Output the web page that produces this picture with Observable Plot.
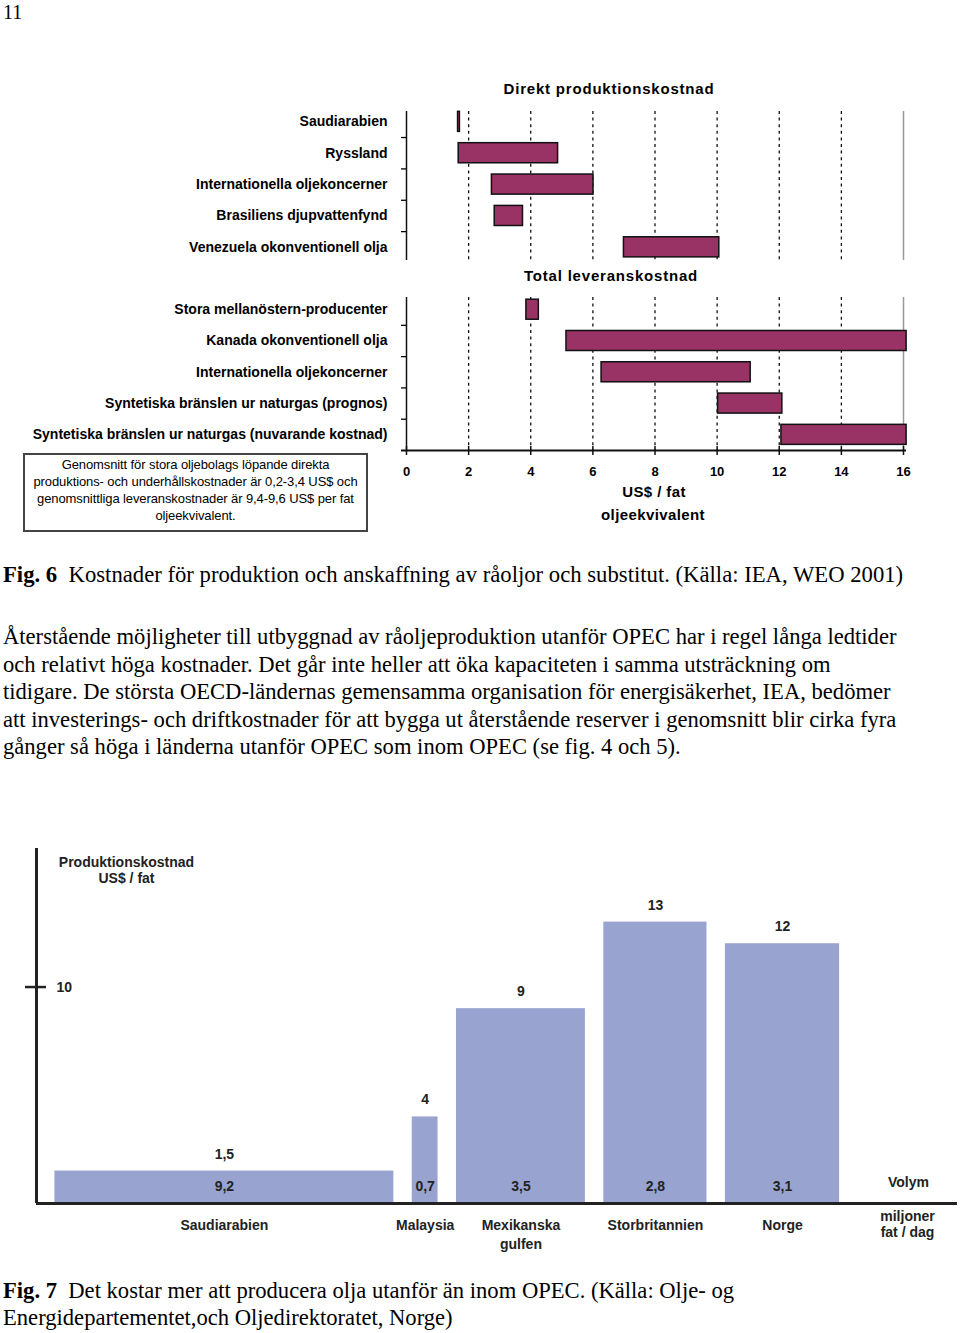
<!DOCTYPE html>
<html><head><meta charset="utf-8">
<script src="https://cdn.jsdelivr.net/npm/d3@7"></script>
<script src="https://cdn.jsdelivr.net/npm/@observablehq/plot@0.6"></script>
<style>
body{margin:0;background:#fff;}
#page{position:relative;width:960px;height:1333px;overflow:hidden;background:#fff;}
.abs{position:absolute;white-space:nowrap;}
.serif{font-family:"Liberation Serif","Times New Roman",serif;color:#000;}
.sans{font-family:"Liberation Sans",Arial,sans-serif;color:#000;}
.ctr{transform:translateX(-50%);text-align:center;}
</style></head><body><div id="page">
<div class="abs serif" style="left:3px;top:0px;font-size:20px;line-height:24px;">11</div>

<div class="abs sans ctr" style="left:609px;top:80px;font-size:15px;font-weight:bold;letter-spacing:0.8px;line-height:18px;">Direkt produktionskostnad</div>
<div class="abs sans ctr" style="left:611px;top:267px;font-size:15px;font-weight:bold;letter-spacing:0.8px;line-height:18px;">Total leveranskostnad</div>
<div class="abs sans ctr" style="left:654px;top:483px;font-size:15px;font-weight:bold;letter-spacing:0.4px;line-height:18px;">US$ / fat</div>
<div class="abs sans ctr" style="left:653px;top:506px;font-size:15px;font-weight:bold;letter-spacing:0.4px;line-height:18px;">oljeekvivalent</div>

<div class="abs sans" style="left:23px;top:453px;width:341px;height:74px;border:2px solid #444;text-align:center;font-size:13px;line-height:17px;padding-top:1px;box-sizing:content-box;letter-spacing:-0.1px;">Genomsnitt för stora oljebolags löpande direkta<br>produktions- och underhållskostnader är 0,2-3,4 US$ och<br>genomsnittliga leveranskostnader är 9,4-9,6 US$ per fat<br>oljeekvivalent.</div>

<div class="abs serif" style="left:3px;top:561px;font-size:22.7px;line-height:28px;"><b>Fig. 6</b>&nbsp; Kostnader för produktion och anskaffning av råoljor och substitut. (Källa: IEA, WEO 2001)</div>

<div class="abs serif" style="left:3px;top:623px;font-size:22.6px;line-height:27.5px;">Återstående möjligheter till utbyggnad av råoljeproduktion utanför OPEC har i regel långa ledtider<br>och relativt höga kostnader. Det går inte heller att öka kapaciteten i samma utsträckning om<br>tidigare. De största OECD-ländernas gemensamma organisation för energisäkerhet, IEA, bedömer<br>att investerings- och driftkostnader för att bygga ut återstående reserver i genomsnitt blir cirka fyra<br>gånger så höga i länderna utanför OPEC som inom OPEC (se fig. 4 och 5).</div>

<div class="abs serif" style="left:3px;top:1277px;font-size:22.6px;line-height:27px;"><b>Fig. 7</b>&nbsp; Det kostar mer att producera olja utanför än inom OPEC. (Källa: Olje- og<br>Energidepartementet,och Oljedirektoratet, Norge)</div>
</div>
<script>
// ---------- Data: Fig. 6 ----------
const directCategories = ["Saudiarabien", "Ryssland", "Internationella oljekoncerner", "Brasiliens djupvattenfynd", "Venezuela okonventionell olja"];
const directLow  = [1.66, 1.68, 2.75, 2.84, 7.00];
const directHigh = [1.72, 4.88, 6.02, 3.75, 10.07];

const totalCategories = ["Stora mellanöstern-producenter", "Kanada okonventionell olja", "Internationella oljekoncerner", "Syntetiska bränslen ur naturgas (prognos)", "Syntetiska bränslen ur naturgas (nuvarande kostnad)"];
const totalLow  = [3.86, 5.15, 6.28, 10.03, 12.07];
const totalHigh = [4.26, 16.10, 11.08, 12.10, 16.10];

const xTicks = [0, 2, 4, 6, 8, 10, 12, 14, 16];

// ---------- Data: Fig. 7 ----------
const countries = ["Saudiarabien", "Malaysia", "Mexikanska\ngulfen", "Storbritannien", "Norge"];
const costs = [1.5, 4, 9, 13, 12];
const costLabels = ["1,5", "4", "9", "13", "12"];
const volumes = [9.2, 0.7, 3.5, 2.8, 3.1];
const volumeLabels = ["9,2", "0,7", "3,5", "2,8", "3,1"];
const yTicks7 = [10];
const yTitle7 = "Produktionskostnad\nUS$ / fat";
const volumeTitle = "Volym";
const volumeUnit = "miljoner\nfat / dag";

const page = document.getElementById("page");
const BAR = "#993366";
const half = 0.32;
const svgStyle = "background:transparent;overflow:visible;font-family:'Liberation Sans',Arial,sans-serif;font-size:14px;font-weight:bold;color:#000;";

function place(el, top) {
  el.style.position = "absolute";
  el.style.left = "0px";
  el.style.top = top + "px";
  page.appendChild(el);
}

function panel(categories, low, high, opts) {
  const rows = categories.map((name, i) => ({i, name, lo: low[i], hi: high[i]}));
  const n = categories.length;
  const grid = xTicks.filter(t => t > xTicks[0] && t < xTicks[xTicks.length - 1]);
  const marks = [
    Plot.ruleX(grid, {stroke: "#111", strokeWidth: 1.3, strokeDasharray: "3,3.6"}),
    Plot.ruleX([xTicks[xTicks.length - 1]], {stroke: "#999", strokeWidth: 1.5}),
    Plot.rect(rows, {x1: "lo", x2: "hi", y1: d => d.i - half, y2: d => d.i + half, fill: BAR, stroke: "#111", strokeWidth: 1.5}),
    Plot.ruleX([0], {stroke: "#111", strokeWidth: 1.5}),
    Plot.axisY({ticks: d3.range(n), tickFormat: i => categories[i], tickSize: 0, tickPadding: 19, label: null, fontSize: 14, fontWeight: "bold", fill: "#000", style: "letter-spacing:-0.45px"}),
    Plot.axisY({ticks: d3.range(n - 1).map(i => i + 0.5), tickSize: 5, tickFormat: () => "", label: null, strokeWidth: 1.3})
  ];
  if (opts.xAxis) {
    marks.push(
      Plot.ruleY([opts.yDomain[1]], {stroke: "#111", strokeWidth: 2, insetLeft: -5, insetRight: -3}),
      Plot.ruleX(xTicks, {y1: opts.yDomain[1], y2: opts.yDomain[1], insetTop: -4, insetBottom: -5, stroke: "#111", strokeWidth: 1.5}),
      Plot.axisX({ticks: xTicks, tickSize: 0, tickPadding: 16, label: null, fontSize: 13, fontWeight: "bold", fill: "#000"})
    );
  }
  return Plot.plot({
    width: 960, height: opts.height,
    marginLeft: 406, marginRight: 57, marginTop: opts.marginTop, marginBottom: opts.marginBottom,
    x: {domain: [xTicks[0], xTicks[xTicks.length - 1]], axis: null},
    y: {domain: opts.yDomain, reverse: true, axis: null},
    style: svgStyle,
    marks
  });
}

place(panel(directCategories, directLow, directHigh, {height: 170, marginTop: 11, marginBottom: 10, yDomain: [-0.33, 4.42]}), 100);
place(panel(totalCategories, totalLow, totalHigh, {height: 195, marginTop: 12, marginBottom: 30, yDomain: [-0.39, 4.5], xAxis: true}), 285);

// ---------- Fig. 7 ----------
const gap = 0.5;
let acc = 0;
const rows7 = countries.map((c, i) => {
  const x1 = acc + gap;
  const x2 = x1 + volumes[i];
  acc = x2;
  return {country: c, cost: costs[i], costLabel: costLabels[i], volLabel: volumeLabels[i], x1, x2, mid: (x1 + x2) / 2};
});

const fig7 = Plot.plot({
  width: 960, height: 420,
  marginLeft: 36, marginRight: 3, marginTop: 8, marginBottom: 57,
  x: {domain: [0, 25], axis: null},
  y: {domain: [0, 16.4], axis: null},
  style: "background:transparent;overflow:visible;font-family:'Liberation Sans',Arial,sans-serif;font-size:14px;font-weight:bold;",
  marks: [
    Plot.rect(rows7, {x1: "x1", x2: "x2", y1: 0, y2: "cost", fill: "#99a3d0"}),
    Plot.ruleX([0], {stroke: "#222", strokeWidth: 3}),
    Plot.ruleY([0], {stroke: "#222", strokeWidth: 3}),
    Plot.ruleY(yTicks7, {x1: 0, x2: 0, insetLeft: -11, insetRight: -10, stroke: "#222", strokeWidth: 2.5}),
    Plot.text(yTicks7, {y: d => d, frameAnchor: "left", textAnchor: "start", dx: 20, text: d => String(d), fill: "#222"}),
    Plot.text(rows7, {x: "mid", y: "cost", text: "costLabel", dy: -17, fill: "#222"}),
    Plot.text(rows7, {x: "mid", y: 0, text: "volLabel", dy: -17, fill: "#222"}),
    Plot.text(rows7, {x: "mid", y: 0, text: "country", lineAnchor: "top", dy: 13, lineHeight: 1.36, fill: "#222"}),
    Plot.text([volumeTitle], {frameAnchor: "bottom-right", textAnchor: "middle", dx: -49, dy: -17, fill: "#222"}),
    Plot.text([volumeUnit], {frameAnchor: "bottom-right", textAnchor: "middle", lineAnchor: "top", dx: -50, dy: 6, lineHeight: 1.14, fill: "#222"}),
    Plot.text([yTitle7], {frameAnchor: "top-left", textAnchor: "middle", lineAnchor: "top", dx: 90, dy: 7, lineHeight: 1.14, fill: "#222"})
  ]
});
place(fig7, 840);
</script>
</body></html>
